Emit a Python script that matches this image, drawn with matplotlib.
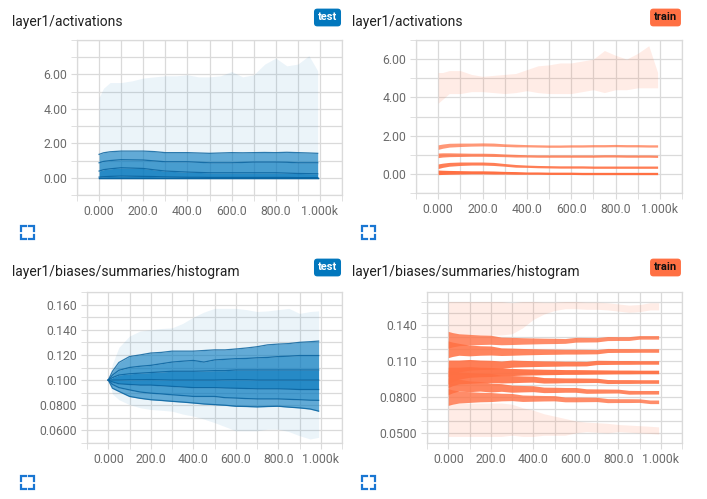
import matplotlib
matplotlib.use('Agg')
import matplotlib.pyplot as plt
from matplotlib.lines import Line2D

plt.rcParams['font.family'] = ['Roboto', 'DejaVu Sans']

W, H = 707, 499

# ---- data ----
steps = [0, 20, 50, 100, 150, 200, 250, 300, 350, 400, 450, 500,
         550, 600, 650, 700, 750, 800, 850, 900, 950, 990]

x_major = [0, 200, 400, 600, 800, 1000]
x_labels = ['0.000', '200.0', '400.0', '600.0', '800.0', '1.000k']
x_minor = [-100, 100, 300, 500, 700, 900, 1100]

# layer1/activations, test run (percentiles max, 93, 84, 69, 50, 31..min)
act_test_max = [4.66, 5.20, 5.53, 5.53, 5.63, 5.79, 5.86, 5.92, 5.92, 5.98, 5.86, 5.86,
                5.92, 6.17, 5.86, 5.98, 6.60, 6.95, 6.50, 6.60, 7.09, 6.21]
act_test_p93 = [1.36, 1.45, 1.51, 1.55, 1.55, 1.55, 1.52, 1.46, 1.46, 1.46, 1.44, 1.42,
                1.44, 1.46, 1.45, 1.46, 1.47, 1.46, 1.48, 1.46, 1.44, 1.42]
act_test_p84 = [0.87, 0.95, 1.00, 1.05, 1.04, 1.03, 0.98, 0.93, 0.93, 0.93, 0.90, 0.87,
                0.87, 0.87, 0.89, 0.91, 0.91, 0.91, 0.90, 0.87, 0.87, 0.87]
act_test_p69 = [0.39, 0.47, 0.52, 0.58, 0.56, 0.54, 0.46, 0.39, 0.36, 0.33, 0.31, 0.29,
                0.29, 0.29, 0.29, 0.29, 0.29, 0.29, 0.27, 0.25, 0.24, 0.23]
act_test_p50 = [0.04, 0.06, 0.08, 0.10, 0.09, 0.08, 0.07, 0.05, 0.04, 0.03, 0.03, 0.02,
                0.02, 0.02, 0.02, 0.02, 0.02, 0.02, 0.02, 0.01, 0.01, 0.01]
act_test_low = [0, 0, 0, 0, 0, 0, 0, 0, 0, 0, 0, 0,
                0, 0, 0, 0, 0, 0, 0, 0, 0, 0]

# layer1/activations, train run (strip centres and half widths)
act_train_max = [4.50, 4.60, 4.80, 4.80, 4.75, 4.70, 4.70, 4.70, 4.75, 4.90, 4.95, 4.95,
                 5.00, 5.00, 5.10, 5.20, 5.35, 5.30, 5.20, 5.40, 5.60, 4.90]
act_train_max_hw = [0.80, 0.70, 0.60, 0.60, 0.45, 0.40, 0.45, 0.50, 0.50, 0.55, 0.70, 0.75,
                    0.80, 0.80, 0.80, 0.80, 1.10, 0.90, 0.80, 0.90, 1.10, 0.40]
act_train_p93 = [1.40, 1.45, 1.50, 1.52, 1.53, 1.54, 1.53, 1.50, 1.48, 1.47, 1.46, 1.45,
                 1.45, 1.46, 1.46, 1.47, 1.47, 1.48, 1.47, 1.47, 1.46, 1.46]
act_train_p84 = [0.97, 0.99, 1.00, 1.00, 1.00, 1.00, 0.99, 0.97, 0.95, 0.94, 0.93, 0.93,
                 0.93, 0.93, 0.93, 0.93, 0.94, 0.94, 0.93, 0.93, 0.93, 0.92]
act_train_p69 = [0.40, 0.45, 0.50, 0.53, 0.54, 0.54, 0.52, 0.47, 0.42, 0.40, 0.38, 0.37,
                 0.36, 0.36, 0.36, 0.35, 0.35, 0.35, 0.35, 0.35, 0.35, 0.35]
act_train_p50 = [0.08, 0.08, 0.08, 0.08, 0.08, 0.08, 0.07, 0.06, 0.05, 0.04, 0.04, 0.03,
                 0.03, 0.03, 0.02, 0.02, 0.02, 0.02, 0.02, 0.02, 0.02, 0.02]
act_train_hw = [0.12, 0.11, 0.10, 0.09, 0.08, 0.08, 0.08, 0.07, 0.07, 0.06, 0.06, 0.06,
                0.06, 0.06, 0.06, 0.06, 0.06, 0.06, 0.06, 0.06, 0.06, 0.06]

# layer1/biases/summaries/histogram, test run
bias_test_max = [0.100, 0.113, 0.126, 0.135, 0.139, 0.140, 0.141, 0.1415, 0.145, 0.150, 0.154, 0.157,
                 0.157, 0.157, 0.156, 0.1545, 0.155, 0.156, 0.157, 0.153, 0.1545, 0.155]
bias_test_p93 = [0.100, 0.107, 0.114, 0.1187, 0.120, 0.1215, 0.122, 0.123, 0.123, 0.123, 0.1235, 0.124,
                 0.124, 0.1247, 0.1255, 0.1265, 0.128, 0.1286, 0.129, 0.130, 0.1305, 0.131]
bias_test_p84 = [0.100, 0.104, 0.1078, 0.110, 0.111, 0.1117, 0.113, 0.1143, 0.115, 0.1156, 0.1143, 0.116,
                 0.1165, 0.117, 0.1172, 0.1177, 0.118, 0.1187, 0.119, 0.1195, 0.1195, 0.1195]
bias_test_p69 = [0.100, 0.102, 0.104, 0.105, 0.1055, 0.106, 0.1065, 0.107, 0.107, 0.107, 0.1072, 0.1075,
                 0.1075, 0.108, 0.108, 0.108, 0.108, 0.108, 0.108, 0.108, 0.108, 0.108]
bias_test_p50 = [0.100, 0.100, 0.100, 0.1002, 0.1003, 0.1004, 0.1002, 0.100, 0.100, 0.100, 0.100, 0.100,
                 0.1002, 0.1003, 0.1003, 0.100, 0.100, 0.100, 0.100, 0.100, 0.100, 0.100]
bias_test_p31 = [0.100, 0.0985, 0.097, 0.0965, 0.096, 0.096, 0.0955, 0.095, 0.0945, 0.094, 0.094, 0.094,
                 0.0937, 0.0935, 0.0933, 0.093, 0.093, 0.093, 0.0928, 0.0925, 0.0925, 0.0925]
bias_test_p16 = [0.100, 0.0965, 0.094, 0.0922, 0.0905, 0.0896, 0.089, 0.0883, 0.0877, 0.087, 0.087, 0.087,
                 0.086, 0.0857, 0.0853, 0.085, 0.085, 0.085, 0.0847, 0.0844, 0.084, 0.0839]
bias_test_p7 = [0.100, 0.0935, 0.091, 0.087, 0.0855, 0.0844, 0.0838, 0.0831, 0.0825, 0.0818, 0.081, 0.0805,
                0.080, 0.0792, 0.079, 0.0787, 0.079, 0.0792, 0.0785, 0.0779, 0.077, 0.0753]
bias_test_min = [0.100, 0.089, 0.0844, 0.0805, 0.078, 0.0766, 0.076, 0.0753, 0.073, 0.0714, 0.069, 0.0662,
                 0.063, 0.0597, 0.0597, 0.0597, 0.061, 0.061, 0.059, 0.0558, 0.0532, 0.0545]

# layer1/biases/summaries/histogram, train run (strip centres and half widths)
bias_train_max = [0.146, 0.146, 0.146, 0.146, 0.146, 0.146, 0.146, 0.146, 0.149, 0.1525, 0.1545, 0.156,
                  0.157, 0.157, 0.1565, 0.1565, 0.156, 0.155, 0.154, 0.1545, 0.156, 0.156]
bias_train_max_hw = [0.014, 0.014, 0.014, 0.014, 0.014, 0.014, 0.014, 0.013, 0.011, 0.0075, 0.005, 0.0035,
                     0.003, 0.003, 0.003, 0.003, 0.003, 0.003, 0.003, 0.003, 0.003, 0.003]
bias_train_p93 = [0.128, 0.128, 0.128, 0.128, 0.128, 0.128, 0.127, 0.127, 0.127, 0.127, 0.127, 0.127,
                  0.127, 0.128, 0.128, 0.128, 0.129, 0.129, 0.129, 0.130, 0.130, 0.130]
bias_train_p84 = [0.120, 0.120, 0.120, 0.119, 0.119, 0.119, 0.118, 0.118, 0.118, 0.118, 0.118, 0.118,
                  0.118, 0.118, 0.118, 0.118, 0.119, 0.119, 0.119, 0.119, 0.119, 0.119]
bias_train_p69 = [0.104, 0.105, 0.106, 0.107, 0.107, 0.107, 0.107, 0.108, 0.108, 0.108, 0.108, 0.108,
                  0.108, 0.108, 0.108, 0.109, 0.109, 0.109, 0.109, 0.109, 0.109, 0.109]
bias_train_p50 = [0.098, 0.099, 0.100, 0.101, 0.101, 0.101, 0.101, 0.101, 0.101, 0.101, 0.101, 0.101,
                  0.101, 0.101, 0.101, 0.101, 0.101, 0.101, 0.101, 0.101, 0.101, 0.101]
bias_train_p31 = [0.095, 0.0955, 0.096, 0.096, 0.096, 0.096, 0.095, 0.095, 0.095, 0.095, 0.094, 0.094,
                  0.094, 0.094, 0.094, 0.094, 0.093, 0.093, 0.093, 0.093, 0.093, 0.093]
bias_train_p16 = [0.089, 0.0895, 0.090, 0.089, 0.089, 0.088, 0.088, 0.087, 0.087, 0.087, 0.086, 0.086,
                  0.086, 0.086, 0.085, 0.085, 0.085, 0.085, 0.084, 0.084, 0.084, 0.084]
bias_train_p7 = [0.080, 0.080, 0.080, 0.080, 0.080, 0.080, 0.080, 0.080, 0.079, 0.079, 0.079, 0.079,
                 0.078, 0.078, 0.078, 0.078, 0.077, 0.077, 0.077, 0.077, 0.076, 0.076]
bias_train_min = [0.061, 0.061, 0.061, 0.061, 0.061, 0.061, 0.061, 0.061, 0.059, 0.058, 0.057, 0.056,
                  0.055, 0.055, 0.055, 0.0545, 0.054, 0.054, 0.0535, 0.053, 0.0525, 0.052]
bias_train_min_hw = [0.014, 0.014, 0.014, 0.014, 0.014, 0.014, 0.014, 0.013, 0.012, 0.011, 0.009, 0.008,
                     0.007, 0.005, 0.004, 0.004, 0.004, 0.003, 0.003, 0.003, 0.003, 0.003]
bias_train_hw = [0.007, 0.006, 0.005, 0.0045, 0.004, 0.0038, 0.0032, 0.003, 0.0027, 0.0025, 0.0023, 0.0022,
                 0.002, 0.002, 0.0019, 0.0018, 0.0017, 0.0016, 0.0016, 0.0015, 0.0015, 0.0015]

TEST = '#0277bd'
TRAIN = '#ff7043'
GRID = '#dadada'

fig = plt.figure(figsize=(W / 100, H / 100), dpi=100)


def px_axes(x0, y0, x1, y1):
    # pixel box (top-left origin) -> axes
    return fig.add_axes([x0 / W, 1 - y1 / H, (x1 - x0) / W, (y1 - y0) / H])


def style(ax, ylim, y_major, y_labels, y_minor):
    ax.set_xlim(-100, 1100)
    ax.set_ylim(*ylim)
    ax.set_xticks(x_major)
    ax.set_xticklabels(x_labels)
    ax.set_xticks(x_minor, minor=True)
    ax.set_yticks(y_major)
    ax.set_yticklabels(y_labels)
    ax.set_yticks(y_minor, minor=True)
    ax.grid(True, which='both', color=GRID, lw=0.9)
    ax.set_axisbelow(True)
    ax.tick_params(which='both', length=4, color=GRID, labelsize=8.8,
                   labelcolor='#6b6b6b', pad=3)
    for s in ax.spines.values():
        s.set_color(GRID)
        s.set_linewidth(0.9)


def test_bands(ax, pcts):
    alphas = [0.08, 0.62, 0.72, 0.86, 0.86, 0.72, 0.62, 0.08]
    for i in range(8):
        ax.fill_between(steps, pcts[i + 1], pcts[i], color=TEST, alpha=alphas[i], lw=0)
    for p in pcts[1:-1]:
        ax.plot(steps, p, color='#0a64a0', lw=0.9, alpha=0.85)


def train_strips(ax, strips):
    for mid, hw, alpha in strips:
        lo = [m - h for m, h in zip(mid, hw)]
        hi = [m + h for m, h in zip(mid, hw)]
        ax.fill_between(steps, lo, hi, color=TRAIN, alpha=alpha, lw=0)


def header(x, y, title, badge, bx, color, tcolor):
    fig.text(x / W, 1 - y / H, title, ha='left', va='center', fontsize=10, color='#212121')
    fig.text(bx / W, 1 - (y - 4.5) / H, badge, ha='center', va='center', fontsize=8,
             fontweight='bold', color=tcolor,
             bbox=dict(boxstyle='round,pad=0.35,rounding_size=0.3', fc=color, ec='none'))


def expand_icon(x0, y0, size=13, arm=4.5):
    c = '#1976d2'
    corners = [((x0, y0 + arm), (x0, y0), (x0 + arm, y0)),
               ((x0 + size - arm, y0), (x0 + size, y0), (x0 + size, y0 + arm)),
               ((x0, y0 + size - arm), (x0, y0 + size), (x0 + arm, y0 + size)),
               ((x0 + size - arm, y0 + size), (x0 + size, y0 + size), (x0 + size, y0 + size - arm))]
    for pts in corners:
        xs = [p[0] / W for p in pts]
        ys = [1 - p[1] / H for p in pts]
        fig.add_artist(Line2D(xs, ys, color=c, lw=1.6, transform=fig.transFigure,
                              solid_joinstyle='miter'))


# top left: activations / test
ax1 = px_axes(77, 40, 342, 195)
test_bands(ax1, [act_test_max, act_test_p93, act_test_p84, act_test_p69, act_test_p50,
                 act_test_low, act_test_low, act_test_low, act_test_low])
style(ax1, (-1, 8), [0, 2, 4, 6], ['0.00', '2.00', '4.00', '6.00'], [-1, 1, 3, 5, 7, 8])

# top right: activations / train
ax2 = px_axes(416, 40, 682, 193)
train_strips(ax2, [(act_train_max, act_train_max_hw, 0.13),
                   (act_train_p93, act_train_hw, 0.72),
                   (act_train_p84, act_train_hw, 0.82),
                   (act_train_p69, act_train_hw, 0.9),
                   (act_train_p50, act_train_hw, 1.0)])
style(ax2, (-1, 7), [0, 2, 4, 6], ['0.00', '2.00', '4.00', '6.00'], [-1, 1, 3, 5, 7])

# bottom left: biases / test
ax3 = px_axes(87, 292, 342, 443)
test_bands(ax3, [bias_test_max, bias_test_p93, bias_test_p84, bias_test_p69, bias_test_p50,
                 bias_test_p31, bias_test_p16, bias_test_p7, bias_test_min])
style(ax3, (0.05, 0.17), [0.06, 0.08, 0.10, 0.12, 0.14, 0.16],
      ['0.0600', '0.0800', '0.100', '0.120', '0.140', '0.160'],
      [0.05, 0.07, 0.09, 0.11, 0.13, 0.15, 0.17])

# bottom right: biases / train
ax4 = px_axes(427, 292, 682, 443)
train_strips(ax4, [(bias_train_max, bias_train_max_hw, 0.13),
                   (bias_train_min, bias_train_min_hw, 0.13),
                   (bias_train_p93, bias_train_hw, 0.8),
                   (bias_train_p84, bias_train_hw, 0.85),
                   (bias_train_p69, bias_train_hw, 0.9),
                   (bias_train_p50, bias_train_hw, 0.95),
                   (bias_train_p31, bias_train_hw, 0.9),
                   (bias_train_p16, bias_train_hw, 0.85),
                   (bias_train_p7, bias_train_hw, 0.8)])
style(ax4, (0.0415, 0.168), [0.05, 0.08, 0.11, 0.14],
      ['0.0500', '0.0800', '0.110', '0.140'],
      [0.06, 0.07, 0.09, 0.10, 0.12, 0.13, 0.15, 0.16])

header(12, 22, 'layer1/activations', 'test', 327.5, TEST, 'white')
header(352, 22, 'layer1/activations', 'train', 665.5, TRAIN, '#111111')
header(12, 272, 'layer1/biases/summaries/histogram', 'test', 327.5, TEST, 'white')
header(352, 272, 'layer1/biases/summaries/histogram', 'train', 665.5, TRAIN, '#111111')

expand_icon(21, 226)
expand_icon(362, 226)
expand_icon(21, 476)
expand_icon(362, 476)

fig.savefig('out.png', dpi=100, facecolor='white')
